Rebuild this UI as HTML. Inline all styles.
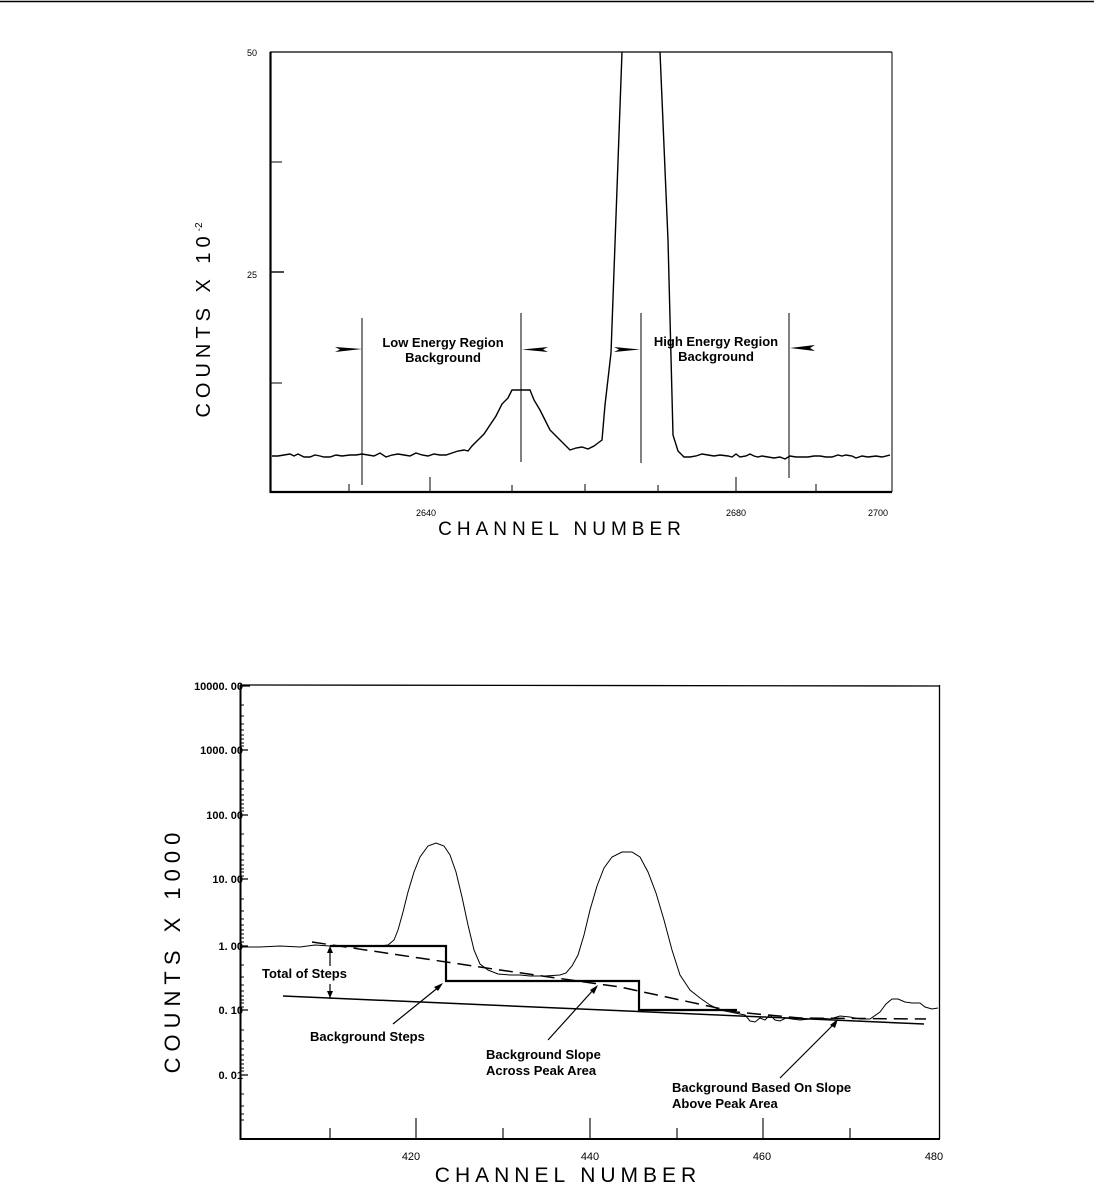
<!DOCTYPE html>
<html><head><meta charset="utf-8"><style>
html,body{margin:0;padding:0;background:#fff;}
svg{display:block;}
text{font-family:"Liberation Sans",sans-serif;fill:#000;}
.b{font-weight:bold;font-size:13px;}
.t{font-size:9px;}
.ax{font-size:21px;letter-spacing:4px;}
</style></head><body>
<svg width="1094" height="1190" viewBox="0 0 1094 1190" xmlns="http://www.w3.org/2000/svg">
<line x1="0" y1="1.5" x2="1094" y2="1.5" stroke="#000" stroke-width="1.5"/>

<!-- Chart 1 -->
<g fill="none" stroke="#000">
<line x1="270" y1="52" x2="892" y2="52" stroke-width="1.2"/>
<line x1="270.5" y1="52" x2="270.5" y2="493" stroke-width="2.2"/>
<line x1="270" y1="492" x2="892" y2="492" stroke-width="2.2"/>
<line x1="892" y1="52" x2="892" y2="492" stroke-width="1"/>
<line x1="270" y1="162" x2="282" y2="162"/>
<line x1="270" y1="272" x2="284" y2="272" stroke-width="1.4"/>
<line x1="270" y1="383" x2="282" y2="383"/>
<path d="M349 484V492M430 477V492M512 485V492M585 484V492M658 485V492M736 477V492M816 484V492"/>
<path d="M362 318V485M521 313V462M641 313V463M789 313V478" stroke-width="1"/>
<path stroke-width="1.4" d="M272 456L278 456 284 455 290 454 294 456 298 454 304 457 310 457 315 455 320 456 324 457 330 457 336 455 342 456 350 455 356 455 362 454 368 455 374 456 380 453 386 457 392 455 398 454 404 455 410 456 416 453 422 455 428 456 434 454 440 455 446 455 452 453 458 451 464 450 468 451 472 446 478 440 484 434 490 425 496 416 502 404 508 398 512 390 530 390 534 400 540 410 545 420 550 430 560 440 570 450 576 448 582 447 588 449 594 446 598 443 602 440 605 405 611 353 622 52M660 52L668 240 673 435 678 451 684 457 690 457 696 456 702 454 708 455 714 456 720 455 728 456 732 457 736 454 740 457 746 456 750 454 754 456 758 457 762 456 768 457 774 458 780 457 785 459 790 456 796 457 802 457 808 457 814 456 820 456 826 457 832 457 838 455 842 456 846 455 852 456 856 458 862 456 868 457 876 456 882 457 890 455"/>
</g>
<polygon points="335,347 362,349 335,352 340,349.5" fill="#000"/>
<polygon points="548,347 522,349.5 548,352 543,349.5" fill="#000"/>
<polygon points="614,347 640,349.5 614,352 619,349.5" fill="#000"/>
<polygon points="815,345 790,348 815,351 810,348" fill="#000"/>
<text class="b" x="443" y="347" text-anchor="middle">Low Energy Region</text>
<text class="b" x="443" y="362" text-anchor="middle">Background</text>
<text class="b" x="716" y="346" text-anchor="middle">High Energy Region</text>
<text class="b" x="716" y="361" text-anchor="middle">Background</text>
<text class="t" x="247" y="56" font-size="10">50</text>
<text class="t" x="247" y="278" font-size="10">25</text>
<text class="t" x="416" y="516" font-size="10">2640</text>
<text class="t" x="726" y="516" font-size="10">2680</text>
<text class="t" x="868" y="516" font-size="10">2700</text>
<text class="ax" x="562" y="535" text-anchor="middle" style="font-size:19px;letter-spacing:5px">CHANNEL  NUMBER</text>
<text class="ax" transform="translate(210,320) rotate(-90)" text-anchor="middle" style="font-size:20px;letter-spacing:5px">COUNTS X 10<tspan dy="-8" font-size="10" letter-spacing="0">-2</tspan></text>

<!-- Chart 2 -->
<g fill="none" stroke="#000">
<line x1="240" y1="685" x2="940" y2="686" stroke-width="1.3"/>
<line x1="240.5" y1="685" x2="240.5" y2="1140" stroke-width="2"/>
<line x1="240" y1="1139" x2="940" y2="1139" stroke-width="2"/>
<line x1="939.5" y1="685" x2="939.5" y2="1139" stroke-width="1.3"/>
<path d="M240 686H250M240 750H248M240 815H248M240 879H248M240 946H248M240 1010H248M240 1075H248" stroke-width="1.2"/>
<path stroke-width="0.9" d="M240 705H244M240 716H244M240 724H244M240 730H244M240 735H244M240 739H244M240 743H244M240 746H244
M240 770H244M240 781H244M240 789H244M240 795H244M240 800H244M240 804H244M240 808H244M240 811H244
M240 834H244M240 846H244M240 854H244M240 860H244M240 865H244M240 869H244M240 872H244M240 876H244
M240 899H244M240 911H244M240 919H244M240 925H244M240 930H244M240 934H244M240 938H244M240 942H244
M240 965H244M240 977H244M240 985H244M240 991H244M240 996H244M240 1000H244M240 1003H244M240 1007H244
M240 1030H244M240 1041H244M240 1049H244M240 1055H244M240 1060H244M240 1064H244M240 1068H244M240 1071H244
M240 1094H244M240 1106H244M240 1114H244M240 1120H244"/>
<path stroke-width="1.1" d="M330 1128V1139M416 1118V1139M503 1128V1139M590 1118V1139M677 1128V1139M763 1118V1139M850 1128V1139"/>
<path stroke-width="1" d="M241 947L260 947 280 946 300 947 315 945 330 946 345 946 356 947 362 946 380 946 388 945 394 940 398 930 403 912 408 892 414 872 420 857 428 846 436 843 444 846 450 855 456 872 462 897 468 925 474 950 480 964 488 970 498 974 510 975 520 975 530 976 545 976 560 975 566 973 572 966 578 955 584 935 590 910 597 886 604 868 612 857 622 852 632 852 640 857 648 872 656 893 664 920 672 950 680 975 690 990 700 998 710 1005 720 1010 735 1013 745 1015 750 1021 755 1022 760 1018 765 1020 770 1015 775 1020 780 1021 786 1018 792 1019 800 1020 810 1019 820 1018 830 1019 840 1016 850 1017 860 1019 870 1019 880 1012 886 1004 892 999 898 999 905 1002 912 1003 920 1003 925 1007 932 1009 938 1008"/>
<path stroke-width="2.2" d="M330 946H446V981H639V1010H737"/>
<line x1="283" y1="996" x2="924" y2="1024" stroke-width="1.5"/>
<path stroke-width="1.5" stroke-dasharray="14,7" d="M312 942L500 970 620 987 736 1012 800 1018 926 1019"/>
<path stroke-width="1.2" d="M330 950V966M330 984V999M393 1024L440 986M548 1040L595 988M780 1078L835 1023"/>
</g>
<g fill="#000">
<polygon points="330,946 327,953 333,953"/>
<polygon points="330,998 327,991 333,991"/>
<polygon points="443,983 434,987 438,991"/>
<polygon points="598,985 590,990 594,994"/>
<polygon points="838,1019 830,1025 835,1028"/>
</g>
<text class="b" x="262" y="978">Total of Steps</text>
<text class="b" x="310" y="1041">Background Steps</text>
<text class="b" x="486" y="1059">Background Slope</text>
<text class="b" x="486" y="1075">Across Peak Area</text>
<text class="b" x="672" y="1092">Background Based On Slope</text>
<text class="b" x="672" y="1108">Above Peak Area</text>
<g font-size="11" text-anchor="end" style="font-family:'Liberation Mono',monospace" font-weight="bold">
<text x="243" y="690">10000. 00</text>
<text x="243" y="754">1000. 00</text>
<text x="243" y="819">100. 00</text>
<text x="243" y="883">10. 00</text>
<text x="243" y="950">1. 00</text>
<text x="243" y="1014">0. 10</text>
<text x="243" y="1079">0. 01</text>
</g>
<text x="411" y="1160" text-anchor="middle" font-size="11">420</text>
<text x="590" y="1160" text-anchor="middle" font-size="11">440</text>
<text x="762" y="1160" text-anchor="middle" font-size="11">460</text>
<text x="934" y="1160" text-anchor="middle" font-size="11">480</text>
<text class="ax" x="568" y="1182" text-anchor="middle" style="font-size:21px;letter-spacing:5px">CHANNEL  NUMBER</text>
<text class="ax" transform="translate(180,950) rotate(-90)" text-anchor="middle" style="font-size:22px;letter-spacing:6px">COUNTS X 1000</text>
</svg>
</body></html>
